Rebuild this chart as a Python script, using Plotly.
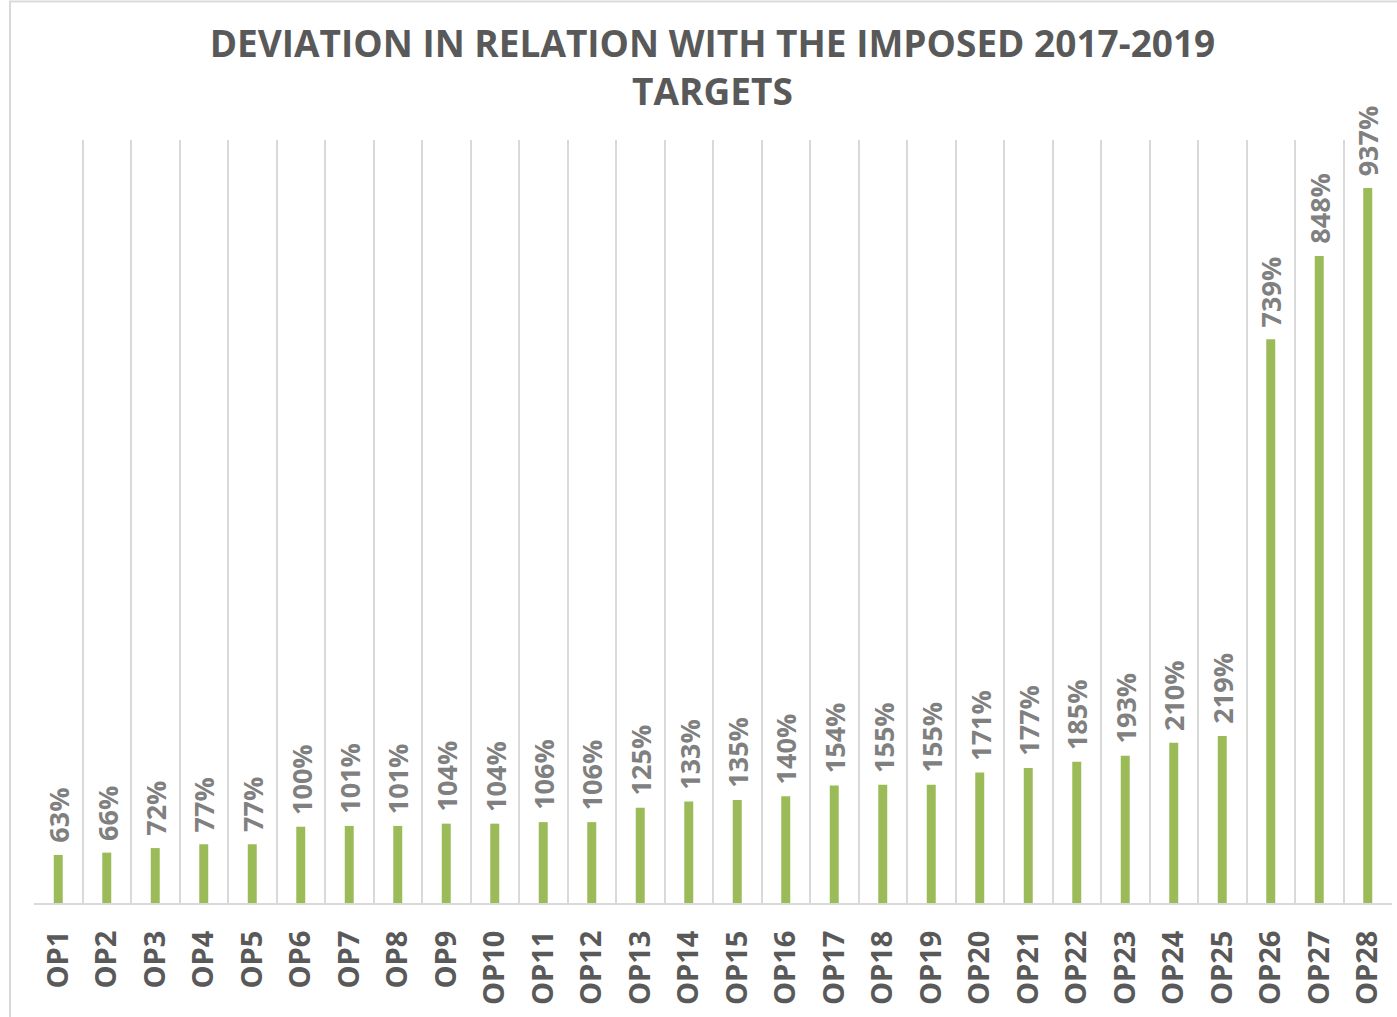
import plotly.graph_objects as go

categories = [f"OP{i}" for i in range(1, 29)]
values = [63, 66, 72, 77, 77, 100, 101, 101, 104, 104, 106, 106, 125, 133, 135,
          140, 154, 155, 155, 171, 177, 185, 193, 210, 219, 739, 848, 937]
labels = [f"{v}%" for v in values]

title_text = "DEVIATION IN RELATION WITH THE IMPOSED 2017-2019<br>TARGETS"

fig = go.Figure()
fig.add_trace(go.Bar(
    x=categories,
    y=values,
    marker=dict(color="#9BBB59", line=dict(width=0)),
    hoverinfo="skip",
))

for c, v, t in zip(categories, values, labels):
    fig.add_annotation(
        x=c, y=v, xref="x", yref="y",
        text=t, showarrow=False,
        textangle=-90,
        xanchor="center", yanchor="bottom",
        yshift=10,
        font=dict(family="Open Sans", size=27, color="#808080", weight="bold"),
    )

L, R, T, B = 34, 5, 140, 114
W, H = 1397, 1017
pw = W - L - R
ph = H - T - B

fig.update_layout(
    width=W, height=H,
    margin=dict(l=L, r=R, t=T, b=B),
    paper_bgcolor="white",
    plot_bgcolor="white",
    bargap=0.815,
    showlegend=False,
    title=dict(
        text=title_text,
        x=0.51, xanchor="center",
        y=1 - 57 / H, yanchor="middle",
        font=dict(family="Open Sans", size=37, color="#595959", weight="bold"),
    ),
    xaxis=dict(
        type="category",
        tickson="boundaries",
        showgrid=True,
        gridcolor="#D9D9D9",
        gridwidth=1.5,
        showline=True,
        linecolor="#D9D9D9",
        linewidth=2,
        ticks="",
        tickangle=-90,
        ticklabelstandoff=14,
        tickfont=dict(family="Open Sans", size=29, color="#595959", weight="bold"),
        fixedrange=True,
    ),
    yaxis=dict(
        range=[0, 1000],
        showgrid=False,
        zeroline=False,
        showticklabels=False,
        showline=False,
        fixedrange=True,
    ),
    shapes=[dict(
        type="rect", xref="paper", yref="paper",
        x0=(10 - L) / pw, x1=(W + 20 - L) / pw,
        y0=-(H + 20 - T - ph) / ph, y1=(H - 1.5 - B) / ph,
        line=dict(color="#D9D9D9", width=2),
        fillcolor="rgba(0,0,0,0)",
        layer="below",
    )],
)

fig.write_html(
    "out.html",
    config={"displayModeBar": False},
    post_script="document.body.style.margin='0';document.body.style.overflow='hidden';",
)
